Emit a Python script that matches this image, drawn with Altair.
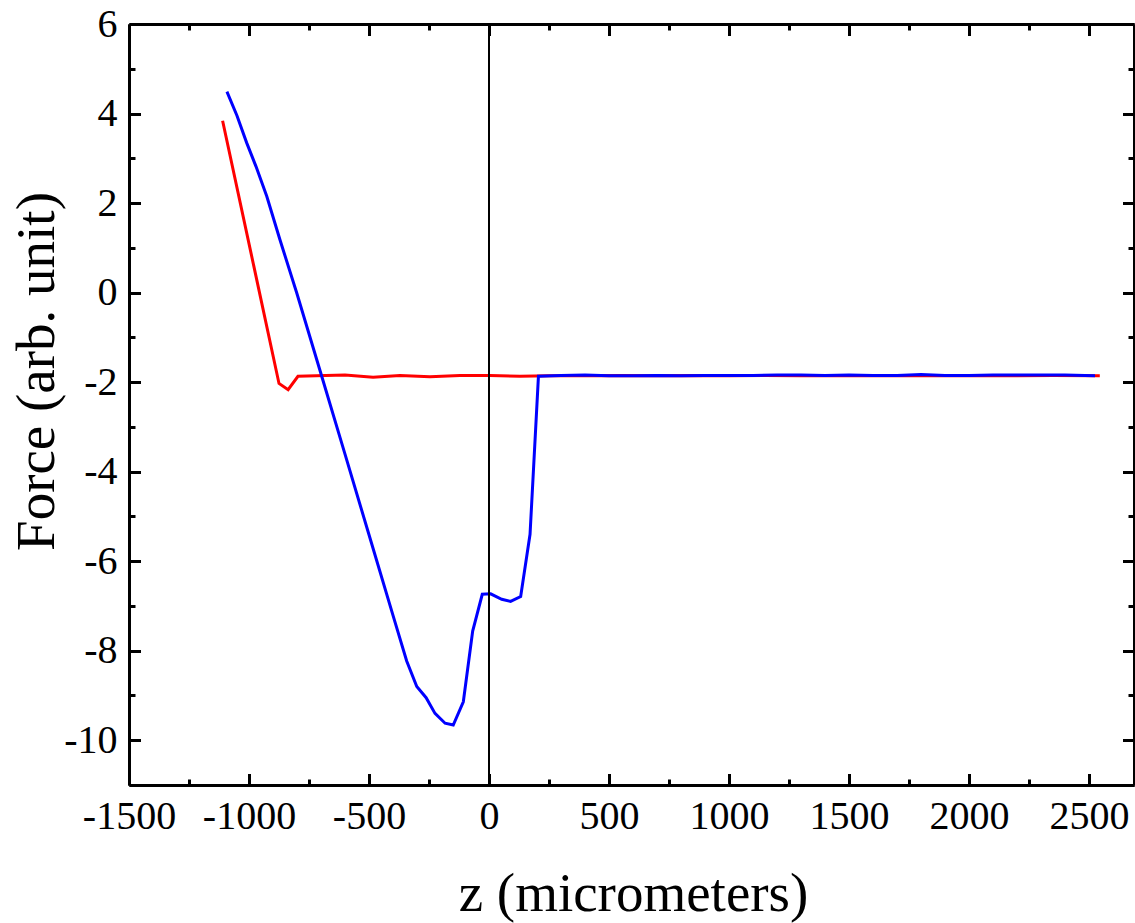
import altair as alt
import pandas as pd

# ---- data ----
red_z = [-1110, -875, -837, -796, -720, -600, -483, -371, -246, -121, 4, 129, 250,
         400, 550, 700, 850, 1000, 1150, 1300, 1450, 1600, 1750, 1900, 2050, 2200,
         2350, 2545]
red_f = [3.84, -2.03, -2.17, -1.87, -1.86, -1.84, -1.89, -1.85, -1.88, -1.85, -1.85,
         -1.87, -1.86, -1.86, -1.85, -1.86, -1.85, -1.86, -1.85, -1.86, -1.85, -1.86,
         -1.85, -1.86, -1.85, -1.86, -1.85, -1.86]

blue_z = [-1092, -1050, -1010, -971, -926, -871, -801, -697, -600, -500, -400, -343,
          -301, -262, -225, -183, -149, -107, -68, -28, 7, 53, 90, 132, 171, 206,
          300, 400, 500, 600, 700, 800, 900, 1000, 1100, 1200, 1300, 1400, 1500,
          1600, 1700, 1800, 1900, 2000, 2100, 2200, 2300, 2400, 2525]
blue_f = [4.49, 3.95, 3.35, 2.82, 2.15, 1.18, -0.01, -1.87, -3.61, -5.41, -7.21, -8.23,
          -8.80, -9.05, -9.40, -9.62, -9.66, -9.14, -7.56, -6.74, -6.73, -6.85, -6.90,
          -6.79, -5.40, -1.87, -1.85, -1.84, -1.86, -1.86, -1.85, -1.86, -1.85, -1.85,
          -1.85, -1.84, -1.84, -1.85, -1.84, -1.85, -1.85, -1.83, -1.85, -1.85, -1.84,
          -1.84, -1.84, -1.84, -1.86]

x_ticks = list(range(-1500, 2501, 250))
y_ticks = list(range(-11, 7, 1))
zero_line = [0]

red_df = pd.DataFrame({"z": red_z, "f": red_f})
blue_df = pd.DataFrame({"z": blue_z, "f": blue_f})
zero_df = pd.DataFrame({"z": zero_line})

FONT = "Liberation Serif"
X_DOMAIN = [-1500, 2687.5]
Y_DOMAIN = [-11, 6]

x_scale = alt.Scale(domain=X_DOMAIN, nice=False, zero=False)
y_scale = alt.Scale(domain=Y_DOMAIN, nice=False, zero=False)

common = dict(
    domainColor="black", domainWidth=3, tickColor="black", tickWidth=3,
    grid=False, labelFont=FONT, labelFontSize=40, labelColor="black",
    titleFont=FONT, titleFontSize=55, titleFontWeight="normal", titleColor="black",
    labelOverlap=False, labelFlush=False,
)

x_major = "datum.value % 500 === 0"
y_major = "datum.value % 2 === 0"

x_bottom = alt.Axis(
    orient="bottom", values=x_ticks, title="z (micrometers)",
    tickSize=alt.ExprRef(f"{x_major} ? -11.5 : -6"),
    labelExpr=f"{x_major} ? '' + datum.value : ''",
    labelPadding=23, labelBaseline="top",
    titleX=504, titleY=125, titleBaseline="alphabetic", titleAlign="center",
    **common,
)
y_left = alt.Axis(
    orient="left", values=y_ticks, title="Force (arb. unit)",
    tickSize=alt.ExprRef(f"{y_major} ? -11.5 : -6"),
    labelExpr=f"{y_major} ? '' + datum.value : ''",
    labelPadding=23.5, labelBaseline="middle",
    titleX=-76, titleY=347, titleAngle=270, titleBaseline="alphabetic",
    titleAlign="center",
    **common,
)
x_top = alt.Axis(
    orient="top", values=x_ticks, title=None, labels=False,
    tickSize=alt.ExprRef(f"{x_major} ? -11.5 : -6"), **common,
)
y_right = alt.Axis(
    orient="right", values=y_ticks, title=None, labels=False,
    tickSize=alt.ExprRef(f"{y_major} ? -11.5 : -6"), **common,
)

red = alt.Chart(red_df).mark_line(color="#ff0000", strokeWidth=3).encode(
    x=alt.X("z:Q", scale=x_scale, axis=x_top),
    y=alt.Y("f:Q", scale=y_scale, axis=y_right),
)
blue = alt.Chart(blue_df).mark_line(color="#0000ff", strokeWidth=3).encode(
    x=alt.X("z:Q", scale=x_scale, axis=x_bottom),
    y=alt.Y("f:Q", scale=y_scale, axis=y_left),
)
zero = alt.Chart(zero_df).mark_rule(color="black", strokeWidth=2).encode(
    x=alt.X("z:Q", scale=x_scale, axis=None),
)

chart = (
    alt.layer(red, blue, zero)
    .resolve_axis(x="independent", y="independent")
    .properties(
        width=1005, height=761,
        autosize=alt.AutoSizeParams(type="none"),
        padding={"left": 129, "top": 24, "right": 1, "bottom": 138},
        background="white",
    )
    .configure_view(stroke=None)
)

chart.save("out.html", embed_options={"renderer": "svg", "actions": False})
